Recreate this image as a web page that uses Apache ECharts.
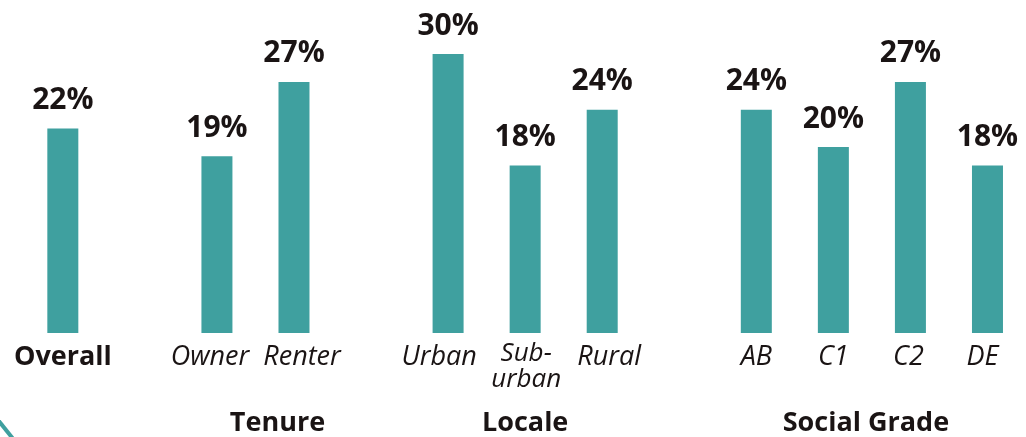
<!DOCTYPE html>
<html>
<head>
<meta charset="utf-8">
<script src="https://cdn.jsdelivr.net/npm/echarts@6/dist/echarts.min.js"></script>
<style>
html,body{margin:0;padding:0;background:#fff;overflow:hidden;}
#c{width:1026px;height:437px;}
</style>
</head>
<body>
<div id="c"></div>
<script>
// Categories (empty strings are spacer slots between groups)
const categories = ['Overall', '', 'Owner', 'Renter', '', 'Urban', 'Sub-urban', 'Rural', '', 'AB', 'C1', 'C2', 'DE'];
// Percent values (null for spacer slots)
const values = [22, null, 19, 27, null, 30, 18, 24, null, 24, 20, 27, 18];
// Group labels and the categories they span
const groupNames = ['Tenure', 'Locale', 'Social Grade'];
const groupFrom = ['Owner', 'Urban', 'AB'];
const groupTo = ['Renter', 'Rural', 'DE'];

// layout (not data): horizontal nudges, px
const groupNudge = [22, 0, -6];
const labelNudge = { Owner: -7, Renter: 8, Urban: -9, 'Sub-urban': 1, Rural: 7, C2: -2, DE: -5 };

const FONT = '"Open Sans", "Noto Sans", sans-serif';
const TEAL = '#3fa09f';
const INK = '#1a1414';

function pad(v) {
  const d = labelNudge[v] || 0;
  return d < 0 ? [0, -2 * d, 0, 0] : [0, 0, 0, 2 * d];
}

const rich = {};
categories.forEach(function (v, i) {
  if (!v) return;
  const base = v === 'Overall'
    ? { fontWeight: 'bold', fontSize: 27, lineHeight: 32 }
    : v === 'Sub-urban'
      ? { fontStyle: 'italic', fontSize: 26, lineHeight: 26 }
      : { fontStyle: 'italic', fontSize: 27, lineHeight: 32 };
  rich['k' + i] = Object.assign({ fontFamily: FONT, color: INK, padding: pad(v) }, base);
});

const chart = echarts.init(document.getElementById('c'), null, { renderer: 'canvas' });

const option = {
  animation: false,
  backgroundColor: '#ffffff',
  grid: { left: 24.3, width: 1006.4, top: 54, bottom: 104, containLabel: false },
  xAxis: {
    type: 'category',
    data: categories,
    axisLine: { show: false },
    axisTick: { show: false },
    axisLabel: {
      interval: 0,
      margin: 8,
      formatter: function (v, i) {
        if (!v) return '';
        const k = 'k' + i;
        if (v === 'Sub-urban') return '{' + k + '|Sub-}\n{' + k + '|urban}';
        return '{' + k + '|' + v + '}';
      },
      rich: rich
    }
  },
  yAxis: {
    type: 'value',
    min: 0,
    max: 30,
    show: false,
    splitLine: { show: false }
  },
  series: [{
    type: 'bar',
    data: values,
    barWidth: 31,
    itemStyle: { color: TEAL },
    label: {
      show: true,
      position: 'top',
      distance: 13,
      formatter: '{c}%',
      fontFamily: FONT,
      fontWeight: 'bold',
      fontSize: 30,
      color: INK
    }
  }],
  graphic: []
};

chart.setOption(option);

// group titles centred below their categories
const gfx = groupNames.map(function (name, i) {
  const x1 = chart.convertToPixel({ xAxisIndex: 0 }, groupFrom[i]);
  const x2 = chart.convertToPixel({ xAxisIndex: 0 }, groupTo[i]);
  return {
    type: 'text',
    x: (x1 + x2) / 2 + groupNudge[i],
    y: 423,
    style: {
      text: name,
      fontFamily: FONT,
      fontWeight: 'bold',
      fontSize: 27,
      fill: INK,
      textAlign: 'center',
      textVerticalAlign: 'middle'
    }
  };
});
// decorative corner stroke
gfx.push({
  type: 'line',
  shape: { x1: -2, y1: 420, x2: 14, y2: 440 },
  style: { stroke: TEAL, lineWidth: 4 }
});
chart.setOption({ graphic: gfx });
</script>
</body>
</html>
